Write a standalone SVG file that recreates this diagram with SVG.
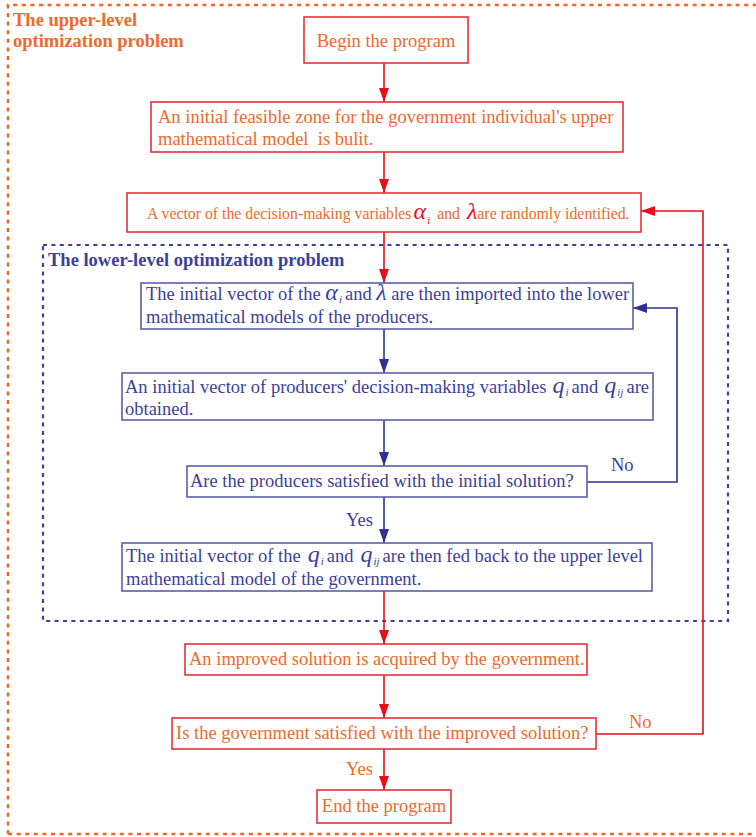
<svg xmlns="http://www.w3.org/2000/svg" width="756" height="837" viewBox="0 0 756 837">
<style>
text{font-family:"Liberation Serif","Times New Roman",serif;font-size:18.5px}
.o{fill:#EE6A2C}
.b{fill:#3B4199}
.bold{font-weight:bold}
.rb{fill:#fff;stroke:#E8303A;stroke-width:1.6}
.bb{fill:#fff;stroke:#5A5FA8;stroke-width:1.6}
.rl{fill:none;stroke:#E3101B;stroke-width:1.6}
.bl{fill:none;stroke:#2E3192;stroke-width:1.6}
.m{font-style:italic;font-size:24px}
.mr{fill:#E3101B}
.s{font-style:italic;font-size:11px}
</style>
<defs>
<marker id="ar" viewBox="0 0 14 10" refX="14" refY="5" markerWidth="14" markerHeight="10" markerUnits="userSpaceOnUse" orient="auto"><path d="M0,0L14,5L0,10z" fill="#E3101B"/></marker>
<marker id="ab" viewBox="0 0 14 10" refX="14" refY="5" markerWidth="14" markerHeight="10" markerUnits="userSpaceOnUse" orient="auto"><path d="M0,0L14,5L0,10z" fill="#2E3192"/></marker>
</defs>
<g id="upper-frame">
<path d="M8,834V5H760M8,834H760" fill="none" stroke="#F26522" stroke-width="2.5" stroke-dasharray="4 4.6"/>
<text x="13" y="26" class="o bold">The upper-level</text>
<text x="13" y="47" class="o bold">optimization problem</text>
</g>
<g id="lower-frame">
<rect x="43" y="245" width="685" height="376" fill="none" stroke="#3B4199" stroke-width="2.2" stroke-dasharray="4 4.4"/>
<text x="48" y="266" class="b bold">The lower-level optimization problem</text>
</g>
<g id="connectors">
<path class="rl" d="M384,63V102" marker-end="url(#ar)"/>
<path class="rl" d="M384,152V193" marker-end="url(#ar)"/>
<path class="rl" d="M384,232V283" marker-end="url(#ar)"/>
<path class="bl" d="M384,329V373" marker-end="url(#ab)"/>
<path class="bl" d="M384,420V466" marker-end="url(#ab)"/>
<path class="bl" d="M384,497V543" marker-end="url(#ab)"/>
<path class="rl" d="M384,591V644" marker-end="url(#ar)"/>
<path class="rl" d="M384,675V718" marker-end="url(#ar)"/>
<path class="rl" d="M384,749V790" marker-end="url(#ar)"/>
<path class="bl" d="M587,482H677V308H633" stroke="#5A5FA8" marker-end="url(#ab)"/>
<path class="rl" d="M596,734H703V211H641" marker-end="url(#ar)"/>
<text x="611" y="471" class="b">No</text>
<text x="346" y="526" class="b">Yes</text>
<text x="629" y="728" class="o">No</text>
<text x="346" y="775" class="o">Yes</text>
</g>
<g id="begin">
<rect class="rb" x="304" y="17" width="164" height="46"/>
<text x="386" y="47" class="o" text-anchor="middle">Begin the program</text>
</g>
<g id="feasible-zone">
<rect class="rb" x="151" y="102" width="472" height="50"/>
<text x="158" y="123" class="o">An initial feasible zone for the government individual's upper</text>
<text x="158" y="145" class="o" xml:space="preserve">mathematical model  is bulit.</text>
</g>
<g id="vector">
<rect class="rb" x="127" y="193" width="514" height="39"/>
<text x="147" y="219" class="o" style="font-size:15.8px">A vector of the decision-making variables<tspan class="m mr" dx="2">α</tspan><tspan class="s mr" dy="5" dx="1">i</tspan><tspan dy="-5" dx="7">and </tspan><tspan class="m mr" dx="3">λ</tspan>are randomly identified.</text>
</g>
<g id="import">
<rect class="bb" x="141" y="283" width="492" height="46"/>
<text x="146" y="300" class="b">The initial vector of the <tspan class="m">α</tspan><tspan class="s" dy="3" dx="1">i</tspan><tspan dy="-3" dx="3">and </tspan><tspan class="m">λ</tspan> are then imported into the lower</text>
<text x="146" y="323" class="b">mathematical models of the producers.</text>
</g>
<g id="producers-vector">
<rect class="bb" x="122" y="373" width="531" height="47"/>
<text x="125" y="393" class="b">An initial vector of producers' decision-making variables<tspan class="m" dx="6">q</tspan><tspan class="s" dy="3" dx="1">i</tspan><tspan dy="-3" dx="3">and</tspan><tspan class="m" dx="6">q</tspan><tspan class="s" dy="3" dx="1">ij</tspan><tspan dy="-3" dx="3">are</tspan></text>
<text x="125" y="415" class="b">obtained.</text>
</g>
<g id="producers-decision">
<rect class="bb" x="187" y="466" width="400" height="31"/>
<text x="190" y="487" class="b">Are the producers satisfied with the initial solution?</text>
</g>
<g id="feedback">
<rect class="bb" x="122" y="543" width="530" height="48"/>
<text x="126" y="562" class="b">The initial vector of the<tspan class="m" dx="7">q</tspan><tspan class="s" dy="3" dx="1">i</tspan><tspan dy="-3" dx="3">and</tspan><tspan class="m" dx="7">q</tspan><tspan class="s" dy="3" dx="1">ij</tspan><tspan dy="-3" dx="3">are then fed back to the upper level</tspan></text>
<text x="126" y="585" class="b">mathematical model of the government.</text>
</g>
<g id="improved">
<rect class="rb" x="185" y="644" width="402" height="31"/>
<text x="189" y="665" class="o">An improved solution is acquired by the government.</text>
</g>
<g id="gov-decision">
<rect class="rb" x="172" y="718" width="424" height="31"/>
<text x="176" y="739" class="o">Is the government satisfied with the improved solution?</text>
</g>
<g id="end">
<rect class="rb" x="317" y="790" width="134" height="33"/>
<text x="384" y="812" class="o" text-anchor="middle">End the program</text>
</g>
</svg>
